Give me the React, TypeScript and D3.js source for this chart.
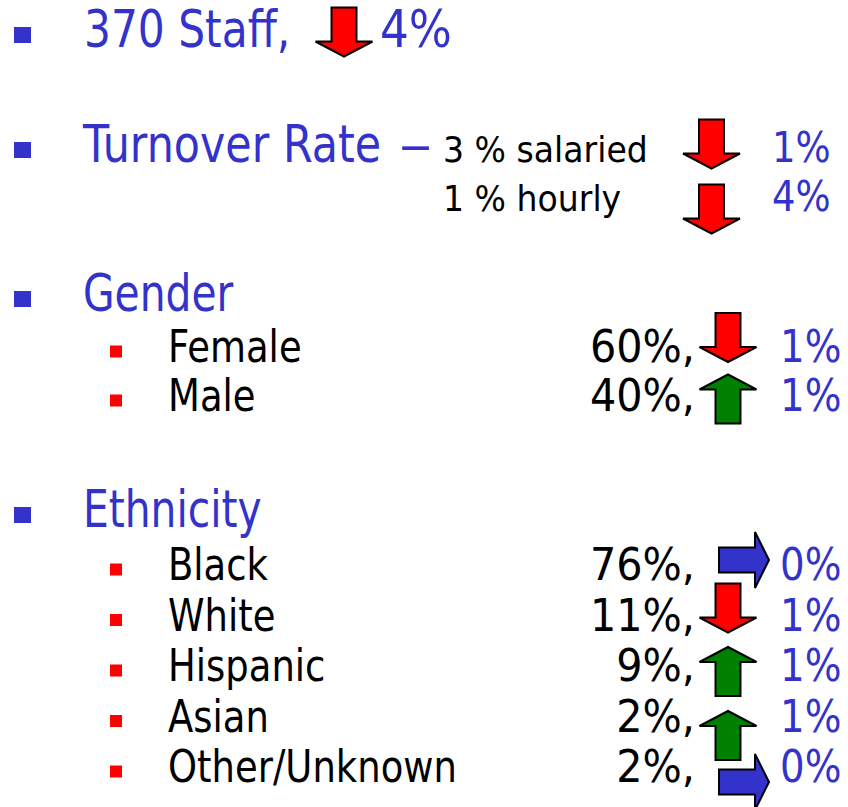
import React from "react";
import * as d3 from "d3";

// ---- data ----
const staffCount = 370;
const staffChange = 4;
const staffDir = "down";

const turnoverLabels = ["3 % salaried", "1 % hourly"];
const turnoverChange = [1, 4];
const turnoverDir = ["down", "down"];

const genderCats = ["Female", "Male"];
const genderShare = [60, 40];
const genderChange = [1, 1];
const genderDir = ["down", "up"];

const ethnicCats = ["Black", "White", "Hispanic", "Asian", "Other/Unknown"];
const ethnicShare = [76, 11, 9, 2, 2];
const ethnicChange = [0, 1, 1, 1, 0];
const ethnicDir = ["flat", "down", "up", "up", "flat"];

// ---- layout (not data) ----
const W = 848;
const H = 807;
const BLUE = "#3333CC";
const RED = "#FF0000";
const GREEN = "#008000";
const FONT = "'DejaVu Sans', Verdana, sans-serif";

const genderArrowNudge = [-24.5, -12];
const ethnicArrowNudge = [-20, -22.5, -9.5, 4, 0];
const turnoverArrowNudge = [-18, -2];

function arrowPath(dir: string, cx: number, cy: number): string {
  const p = d3.path();
  if (dir === "flat") {
    const L = 50, sh = 25, hh = 56, hl = 14;
    const x0 = cx - L / 2, x1 = cx + L / 2, xh = x1 - hl;
    p.moveTo(x0, cy - sh / 2);
    p.lineTo(xh, cy - sh / 2);
    p.lineTo(xh, cy - hh / 2);
    p.lineTo(x1, cy);
    p.lineTo(xh, cy + hh / 2);
    p.lineTo(xh, cy + sh / 2);
    p.lineTo(x0, cy + sh / 2);
    p.closePath();
    return p.toString();
  }
  const L = 49, sw = 25, hw = 57, hl = 15;
  const s = dir === "down" ? 1 : -1;
  const tail = cy - (s * L) / 2;
  const tip = cy + (s * L) / 2;
  const hb = tip - s * hl;
  p.moveTo(cx - sw / 2, tail);
  p.lineTo(cx + sw / 2, tail);
  p.lineTo(cx + sw / 2, hb);
  p.lineTo(cx + hw / 2, hb);
  p.lineTo(cx, tip);
  p.lineTo(cx - hw / 2, hb);
  p.lineTo(cx - sw / 2, hb);
  p.closePath();
  return p.toString();
}

const dirColor = (d: string) => (d === "down" ? RED : d === "up" ? GREEN : BLUE);

function T(props: {
  x: number; y: number; s?: number; size: number; fill?: string; anchor?: string; children: React.ReactNode;
}) {
  const { x, y, s = 0.8, size, fill = "#000", anchor = "start", children } = props;
  return (
    <text
      transform={`translate(${x},${y}) scale(${s},1)`}
      fontSize={size}
      fill={fill}
      textAnchor={anchor}
      fontFamily={FONT}
    >
      {children}
    </text>
  );
}

function Arrow({ dir, cx, cy }: { dir: string; cx: number; cy: number }) {
  return <path d={arrowPath(dir, cx, cy)} fill={dirColor(dir)} stroke="#000" strokeWidth={2} strokeLinejoin="miter" />;
}

function BlueBullet({ y }: { y: number }) {
  return <rect x={14} y={y - 12 - 8} width={17} height={16} fill={BLUE} />;
}
function RedBullet({ y }: { y: number }) {
  return <rect x={110} y={y - 10.5 - 6} width={12} height={12} fill={RED} />;
}

export default function App() {
  React.useEffect(() => {
    document.body.style.margin = "0";
  }, []);

  const F1 = 51;
  const F2 = 44;
  const sL2 = 0.84;
  const sPct = 0.94;

  // level-1 rows
  const row1 = 47;
  const rowTurn = 162;
  const rowGender = 311;
  const rowEth = 527;

  const turnY = d3.scalePoint<string>().domain(turnoverLabels).range([162, 211]);
  const genderY = d3.scalePoint<string>().domain(genderCats).range([362, 411]);
  const ethY = d3.scalePoint<string>().domain(ethnicCats).range([580, 782]);

  const vx = 728; // vertical arrows centre
  const fx = 744; // flat arrows centre

  return (
    <svg width={W} height={H} style={{ display: "block", background: "#fff" }}>
      {/* Row 1 */}
      <BlueBullet y={row1} />
      <T x={84} y={row1} size={F1} s={0.83} fill={BLUE}>{`${staffCount} Staff,`}</T>
      <Arrow dir={staffDir} cx={344} cy={row1 - 15} />
      <T x={380} y={row1} size={F1} s={0.89} fill={BLUE}>{`${staffChange}%`}</T>

      {/* Turnover */}
      <BlueBullet y={rowTurn} />
      <T x={83} y={rowTurn} size={F1} s={0.84} fill={BLUE}>Turnover Rate</T>
      <T x={399} y={rowTurn} size={F1} s={1.3} fill={BLUE}>–</T>
      {turnoverLabels.map((l, i) => {
        const y = turnY(l)!;
        return (
          <g key={l}>
            <T x={443} y={y} size={36} s={0.92}>{l}</T>
            <Arrow dir={turnoverDir[i]} cx={711.5} cy={y + turnoverArrowNudge[i]} />
            <T x={772} y={y} size={42} s={0.88} fill={BLUE}>{`${turnoverChange[i]}%`}</T>
          </g>
        );
      })}

      {/* Gender */}
      <BlueBullet y={rowGender} />
      <T x={83} y={rowGender} size={F1} fill={BLUE}>Gender</T>
      {genderCats.map((c, i) => {
        const y = genderY(c)!;
        return (
          <g key={c}>
            <RedBullet y={y} />
            <T x={168} y={y} size={F2} s={sL2}>{c}</T>
            <T x={695} y={y} size={F2} s={sPct} anchor="end">{`${genderShare[i]}%,`}</T>
            <Arrow dir={genderDir[i]} cx={vx} cy={y + genderArrowNudge[i]} />
            <T x={780} y={y} size={F2} s={0.88} fill={BLUE}>{`${genderChange[i]}%`}</T>
          </g>
        );
      })}

      {/* Ethnicity */}
      <BlueBullet y={rowEth} />
      <T x={83} y={rowEth} size={F1} fill={BLUE}>Ethnicity</T>
      {ethnicCats.map((c, i) => {
        const y = ethY(c)!;
        const d = ethnicDir[i];
        return (
          <g key={c}>
            <RedBullet y={y} />
            <T x={168} y={y} size={F2} s={sL2}>{c}</T>
            <T x={695} y={y} size={F2} s={sPct} anchor="end">{`${ethnicShare[i]}%,`}</T>
            <Arrow dir={d} cx={d === "flat" ? fx : vx} cy={y + ethnicArrowNudge[i]} />
            <T x={780} y={y} size={F2} s={0.88} fill={BLUE}>{`${ethnicChange[i]}%`}</T>
          </g>
        );
      })}
    </svg>
  );
}
